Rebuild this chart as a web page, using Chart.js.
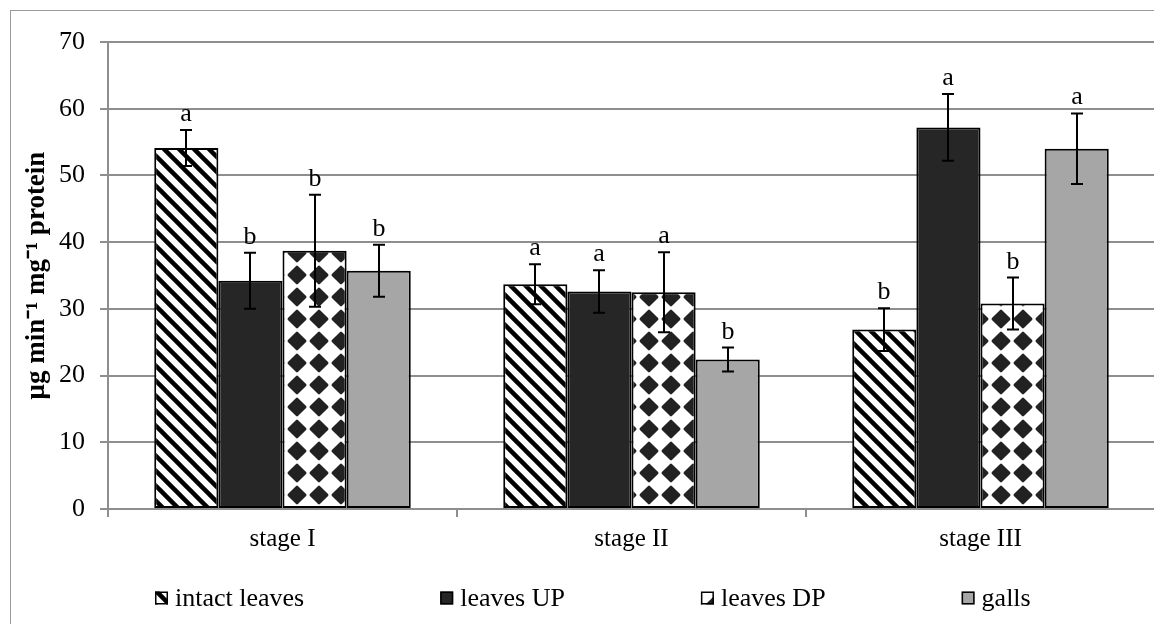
<!DOCTYPE html>
<html><head><meta charset="utf-8">
<script src="https://cdn.jsdelivr.net/npm/chart.js@4.4.1/dist/chart.umd.min.js"></script>
<style>
html,body{margin:0;padding:0;background:#fff;overflow:hidden;width:1154px;height:624px;}
#frame{position:absolute;left:10px;top:10px;width:1170px;height:640px;border:1px solid #9a9a9a;}
#wrap{position:absolute;left:0;top:0;width:1170px;height:624px;}
</style></head><body>
<div id="frame"></div>
<div id="wrap"><canvas id="c" width="1170" height="624"></canvas></div>
<script>
// ---- data ----
const categories = ['stage I', 'stage II', 'stage III'];
const seriesNames = ['intact leaves', 'leaves UP', 'leaves DP', 'galls'];
const intactLeaves = [54.1, 33.7, 26.9];
const leavesUP     = [34.2, 32.6, 57.2];
const leavesDP     = [38.7, 32.5, 30.8];
const galls        = [35.7, 22.4, 54.0];
const intactLeavesErr = [2.7, 3.0, 3.2];
const leavesUPErr     = [4.2, 3.2, 5.0];
const leavesDPErr     = [8.4, 6.0, 3.9];
const gallsErr        = [3.9, 1.8, 5.3];
const intactLeavesSig = ['a', 'a', 'b'];
const leavesUPSig     = ['b', 'a', 'a'];
const leavesDPSig     = ['b', 'a', 'b'];
const gallsSig        = ['b', 'b', 'a'];
const yMin = 0, yMax = 70, yStep = 10;
const yTitle = 'μg min⁻¹ mg⁻¹ protein';

const SERIF = '"Liberation Serif", "Times New Roman", serif';

function stripePattern() {
  const s = 15, c = document.createElement('canvas');
  c.width = s; c.height = s;
  const g = c.getContext('2d');
  g.fillStyle = '#fff'; g.fillRect(0, 0, s, s);
  g.strokeStyle = '#000'; g.lineWidth = 4.5;
  for (const o of [-s, 0, s]) {
    g.beginPath(); g.moveTo(o - 2, -2); g.lineTo(o + s + 2, s + 2); g.stroke();
  }
  return g.createPattern(c, 'repeat');
}
function diamondPattern() {
  const s = 22, c = document.createElement('canvas');
  c.width = s; c.height = s;
  const g = c.getContext('2d');
  g.fillStyle = '#fff'; g.fillRect(0, 0, s, s);
  g.fillStyle = '#222'; g.strokeStyle = '#222';
  g.lineWidth = 2.5; g.lineJoin = 'round';
  const cx = s / 2, cy = s / 2, r = 8.2;
  g.beginPath(); g.moveTo(cx, cy - r); g.lineTo(cx + r, cy); g.lineTo(cx, cy + r); g.lineTo(cx - r, cy); g.closePath();
  g.fill(); g.stroke();
  return g.createPattern(c, 'repeat');
}

const fills = [stripePattern(), '#262626', diamondPattern(), '#a6a6a6'];
const values = [intactLeaves, leavesUP, leavesDP, galls];
const errs = [intactLeavesErr, leavesUPErr, leavesDPErr, gallsErr];
const sigs = [intactLeavesSig, leavesUPSig, leavesDPSig, gallsSig];

const datasets = seriesNames.map((name, i) => ({
  label: name,
  data: values[i],
  err: errs[i],
  sig: sigs[i],
  backgroundColor: fills[i],
  borderColor: '#000',
  borderWidth: 2,
  borderSkipped: false,
  categoryPercentage: 0.735,
  barPercentage: 1.0
}));

const errorBarPlugin = {
  id: 'errorBars',
  afterDatasetsDraw(chart) {
    const ctx = chart.ctx, ys = chart.scales.y;
    ctx.save();
    ctx.strokeStyle = '#000'; ctx.lineWidth = 2;
    ctx.fillStyle = '#000';
    ctx.font = '26px ' + SERIF;
    ctx.textAlign = 'center'; ctx.textBaseline = 'alphabetic';
    chart.data.datasets.forEach((ds, di) => {
      const meta = chart.getDatasetMeta(di);
      meta.data.forEach((bar, j) => {
        const v = ds.data[j], e = ds.err[j];
        const x = Math.round(bar.x);
        const yt = ys.getPixelForValue(v + e), yb = ys.getPixelForValue(v - e);
        ctx.beginPath();
        ctx.moveTo(x, yt); ctx.lineTo(x, yb);
        ctx.moveTo(x - 6, yt); ctx.lineTo(x + 6, yt);
        ctx.moveTo(x - 6, yb); ctx.lineTo(x + 6, yb);
        ctx.stroke();
        ctx.fillText(ds.sig[j], x, yt - 9);
      });
    });
    ctx.restore();
  }
};

const legendCenterX = 593;
const legendPlugin = {
  id: 'customLegend',
  afterDraw(chart) {
    const ctx = chart.ctx;
    ctx.save();
    ctx.font = '26px ' + SERIF;
    const box = 13, gap = 7, spacing = 136, y = 598;
    const items = chart.data.datasets.map(ds => ({
      label: ds.label, fill: ds.backgroundColor,
      w: box + gap + ctx.measureText(ds.label).width
    }));
    const total = items.reduce((a, b) => a + b.w, 0) + spacing * (items.length - 1);
    let x = Math.round(legendCenterX - total / 2);
    items.forEach(it => {
      ctx.fillStyle = it.fill;
      ctx.fillRect(x, y - box / 2, box, box);
      ctx.strokeStyle = '#000'; ctx.lineWidth = 1.5;
      ctx.strokeRect(x + 0.75, y - box / 2 + 0.75, box - 1.5, box - 1.5);
      ctx.fillStyle = '#000';
      ctx.textAlign = 'left'; ctx.textBaseline = 'middle';
      ctx.fillText(it.label, x + box + gap, y + 1);
      x += it.w + spacing;
    });
    ctx.restore();
  }
};

const GRID = '#8e8e8e';
new Chart(document.getElementById('c'), {
  type: 'bar',
  data: { labels: categories, datasets },
  options: {
    responsive: false,
    devicePixelRatio: 1,
    animation: false,
    layout: { padding: { left: 0, top: 42, right: 15, bottom: 65 } },
    plugins: { legend: { display: false }, tooltip: { enabled: false } },
    scales: {
      x: {
        grid: { display: true, drawOnChartArea: false, drawTicks: true, tickLength: 8, offset: true, color: GRID, lineWidth: 2 },
        border: { display: true, color: GRID, width: 2 },
        ticks: { color: '#000', font: { family: SERIF, size: 25 }, padding: 7 },
        afterFit: s => { s.height = 50; }
      },
      y: {
        min: yMin, max: yMax,
        ticks: { stepSize: yStep, color: '#000', font: { family: SERIF, size: 26 }, padding: 15 },
        grid: { color: GRID, lineWidth: 2, tickLength: 8, drawTicks: true },
        border: { display: true, color: GRID, width: 2 },
        title: { display: true, text: yTitle, color: '#000', font: { family: SERIF, size: 27, weight: 'bold' }, padding: { top: 21, bottom: 0 } },
        afterFit: s => { s.width = 108; }
      }
    }
  },
  plugins: [errorBarPlugin, legendPlugin]
});
</script>
</body></html>
